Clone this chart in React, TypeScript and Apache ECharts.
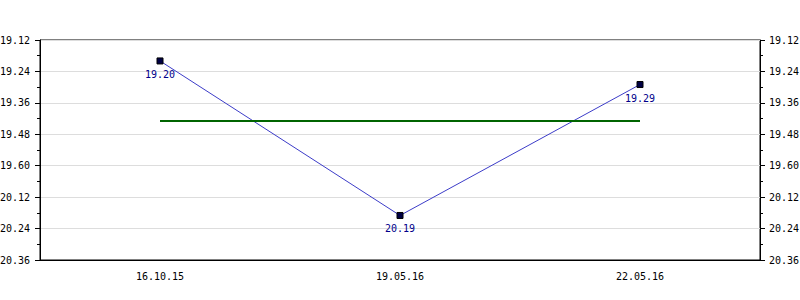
import React, { useEffect, useRef } from "react";
import * as echarts from "echarts";

const categories = ["16.10.15", "19.05.16", "22.05.16"];
const times = ["19.20", "20.19", "19.29"];
const axisMin = "19.12";
const axisMax = "20.36";
const axisStepSeconds = 12;

const toSec = (t: string) => {
  const [m, s] = t.split(".").map(Number);
  return m * 60 + s;
};
const fmt = (v: number) => {
  const m = Math.floor((v - 1) / 60);
  const s = Math.round(v - m * 60);
  return `${m}.${String(s).padStart(2, "0")}`;
};

export default function App() {
  const ref = useRef<HTMLDivElement>(null);
  useEffect(() => {
    document.body.style.margin = "0";
    document.body.style.overflow = "hidden";
    if (!ref.current) return;
    const chart = echarts.init(ref.current, undefined, { renderer: "svg" });
    const values = times.map(toSec);
    const avg = values.reduce((a, b) => a + b, 0) / values.length;
    const font = "DejaVu Sans Mono";
    const yAxisBase = {
      type: "value" as const,
      inverse: true,
      min: toSec(axisMin),
      max: toSec(axisMax),
      interval: axisStepSeconds,
      axisLine: { show: true, lineStyle: { color: "#000", width: 1 } },
      axisTick: { show: true, length: 5, lineStyle: { color: "#000" } },
      minorTick: { show: true, splitNumber: 2, length: 3, lineStyle: { color: "#000" } },
    };
    const yLabel = (margin: number) => ({
      formatter: (v: number) => fmt(v),
      color: "#000",
      fontFamily: font,
      fontSize: 10,
      margin,
    });
    chart.setOption({
      animation: false,
      grid: {
        left: 40,
        right: 40,
        top: 40,
        bottom: 40,
        outerBoundsMode: "none",
        containLabel: false,
        show: true,
        borderColor: "#000",
        borderWidth: 1,
        backgroundColor: "transparent",
      },
      xAxis: {
        type: "category",
        data: categories,
        boundaryGap: true,
        axisLine: { lineStyle: { color: "#000", width: 1 } },
        axisTick: { alignWithLabel: true, length: 5, lineStyle: { color: "#000" } },
        axisLabel: { color: "#000", fontFamily: font, fontSize: 10, margin: 11 },
        splitLine: { show: false },
      },
      yAxis: [
        {
          ...yAxisBase,
          position: "left",
          axisLabel: yLabel(10),
          splitLine: { show: true, lineStyle: { color: "#dddddd", width: 1 } },
        },
        {
          ...yAxisBase,
          position: "right",
          axisLabel: yLabel(9),
          splitLine: { show: false },
        },
      ],
      series: [
        {
          type: "line",
          data: values,
          yAxisIndex: 0,
          lineStyle: { color: "#3c3cc8", width: 1 },
          symbol: "rect",
          symbolSize: 6,
          itemStyle: { color: "#000044", borderColor: "#000000", borderWidth: 1 },
          label: {
            show: true,
            position: "bottom",
            distance: 5,
            color: "#00008b",
            fontFamily: font,
            fontSize: 10,
            formatter: (p: any) => times[p.dataIndex],
          },
          markLine: {
            silent: true,
            symbol: "none",
            label: { show: false },
            lineStyle: { color: "#006400", width: 2, type: "solid" },
            data: [[{ coord: [0, avg] }, { coord: [categories.length - 1, avg] }]],
          },
        },
      ],
    });
    return () => chart.dispose();
  }, []);
  return <div ref={ref} style={{ width: 800, height: 300 }} />;
}
